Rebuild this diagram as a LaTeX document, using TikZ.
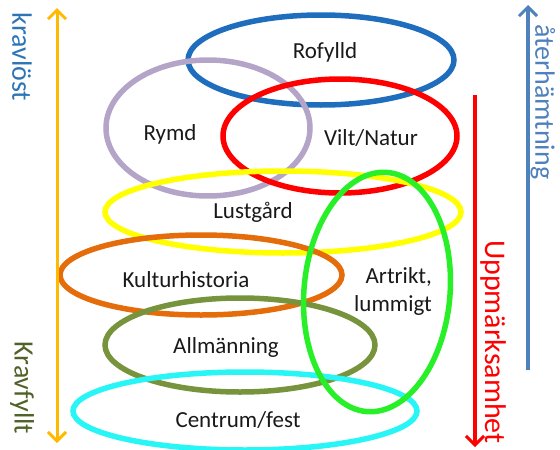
\documentclass[tikz,border=0pt]{standalone}
\usepackage{fontspec}
\setmainfont{Carlito}
\usetikzlibrary{arrows.meta,shapes.geometric}
\definecolor{cBlue}{RGB}{31,110,190}
\definecolor{cPurple}{RGB}{180,165,200}
\definecolor{cRed}{RGB}{255,0,0}
\definecolor{cYellow}{RGB}{255,255,0}
\definecolor{cGreen}{RGB}{40,240,40}
\definecolor{cOrange}{RGB}{228,108,10}
\definecolor{cOlive}{RGB}{119,147,60}
\definecolor{cCyan}{RGB}{40,245,245}
\definecolor{cAmber}{RGB}{255,185,0}
\definecolor{cSteel}{RGB}{79,129,189}
\definecolor{cTextBlue}{RGB}{46,117,182}
\definecolor{cTextOlive}{RGB}{79,98,40}
\definecolor{cText}{RGB}{25,25,25}
\tikzset{
  ring/.style={ellipse, line width=5.5pt, inner sep=0pt},
  lbl/.style={font=\fontsize{23}{26}\selectfont, text=cText, inner sep=0pt},
  side/.style={rotate=-90, inner sep=0pt},
  tip/.style={-{Straight Barb[length=9pt,width=18pt,line width=3pt]}}
}
\begin{document}
\begin{tikzpicture}[x=1pt,y=-1pt]
\useasboundingbox (0,0) rectangle (560,450);
% ellipses
\node[ring, draw=cBlue, minimum width=266pt, minimum height=90pt] (rofylld) at (321,60) {};
\node[ring, draw=cPurple, minimum width=204pt, minimum height=136pt] (rymd) at (208,128) {};
\node[ring, draw=cRed, minimum width=234pt, minimum height=114pt] (vilt) at (340,136) {};
\node[ring, draw=cYellow, minimum width=356pt, minimum height=82pt] (lust) at (283,212) {};
\node[ring, draw=cOrange, minimum width=282pt, minimum height=80pt] (kultur) at (201,275) {};
\node[ring, draw=cOlive, minimum width=270pt, minimum height=94pt] (allm) at (240,345) {};
\node[ring, draw=cCyan, minimum width=344pt, minimum height=78pt] (centrum) at (245,411) {};
\node[ring, draw=cGreen, minimum width=146pt, minimum height=240pt, rotate=-5] (artrikt) at (377,292) {};
% labels
\node[lbl] (tRofylld) at (325,52) {Rofylld};
\node[lbl] (tRymd) at (170,134) {Rymd};
\node[lbl] (tVilt) at (371,138) {Vilt/Natur};
\node[lbl] (tLust) at (253,212) {Lustgård};
\node[lbl] (tKultur) at (186,280) {Kulturhistoria};
\node[lbl] (tAllm) at (226,347) {Allmänning};
\node[lbl] (tCentrum) at (238,420) {Centrum/fest};
\node[lbl, align=right, font=\fontsize{23}{28}\selectfont] (tArtrikt) at (393,291) {Artrikt,\\lummigt};
% arrows
\coordinate (oTop) at (57,8);
\coordinate (oBot) at (57,443);
\draw[cAmber, line width=3pt, {Straight Barb[length=9pt,width=18pt,line width=3pt]}-{Straight Barb[length=9pt,width=18pt,line width=3pt]}] (oTop) -- (oBot);
\coordinate (bTop) at (528,5);
\coordinate (bBot) at (528,370);
\draw[cSteel, line width=4.5pt, tip] (bBot) -- (bTop);
\coordinate (rTop) at (475,95);
\coordinate (rBot) at (475,447);
\draw[cRed, line width=3.5pt, tip] (rTop) -- (rBot);
% side texts
\node[side, text=cTextBlue, font=\fontsize{28}{30}\selectfont] (tKravlost) at (22,57) {kravlöst};
\node[side, text=cTextOlive, font=\fontsize{28}{30}\selectfont] (tKravfyllt) at (22,388) {Kravfyllt};
\node[side, text=cSteel, font=\fontsize{28}{30}\selectfont] (tAter) at (543,102) {återhämtning};
\node[side, text=cRed, font=\fontsize{30}{32}\selectfont] (tUpp) at (493,342) {Uppmärksamhet};
\end{tikzpicture}
\end{document}
